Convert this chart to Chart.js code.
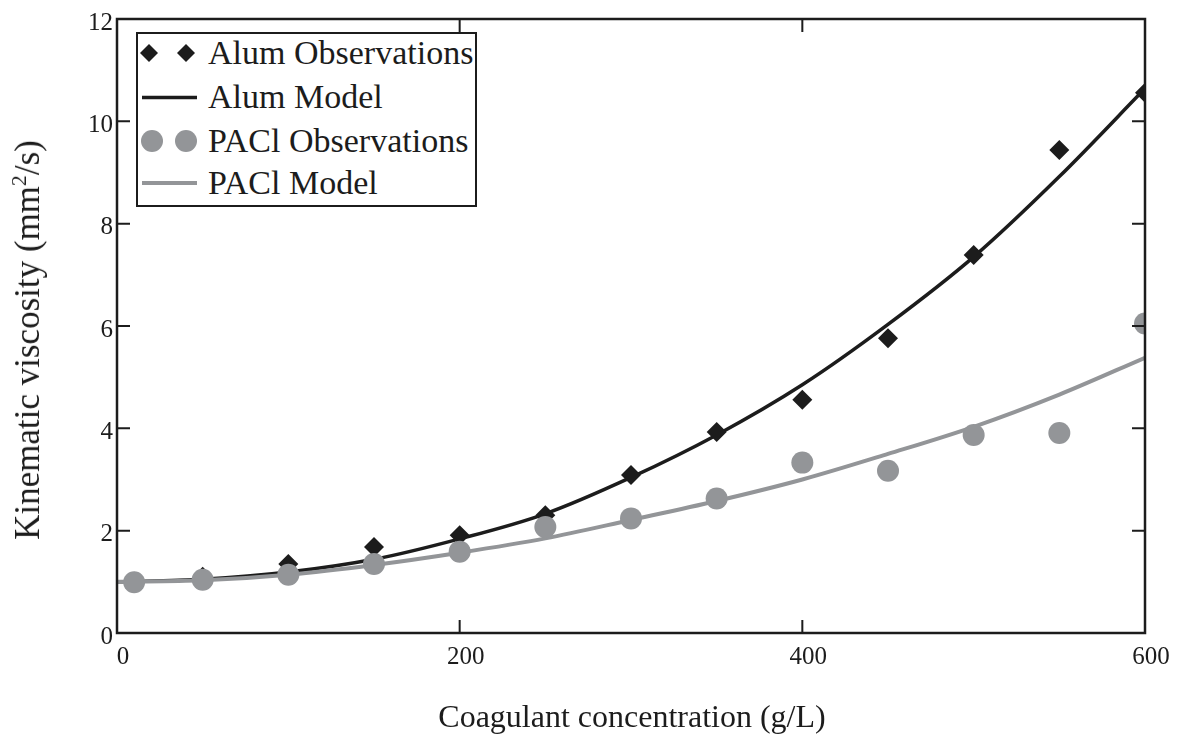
<!DOCTYPE html>
<html><head><meta charset="utf-8">
<script src="https://cdn.jsdelivr.net/npm/chart.js@4"></script>
<style>
html,body{margin:0;padding:0;background:#fff;}
#wrap{position:relative;width:1186px;height:743px;font-family:"Liberation Serif","Times New Roman",serif;color:#1c1c1c;}
canvas{position:absolute;left:0;top:0;}
#legend{position:absolute;left:136px;top:32px;width:337px;height:171px;border:2px solid #1c1c1c;background:#fff;}
#legend svg{position:absolute;left:0;top:0;}
.lt{position:absolute;left:70px;font-size:34px;line-height:40px;white-space:nowrap;}
#ytitle{position:absolute;left:28px;top:340px;transform:translate(-50%,-50%) rotate(-90deg);font-size:35px;line-height:40px;white-space:nowrap;}
#ytitle sup{font-size:0.62em;line-height:0;vertical-align:0.6em;}
#xtitle{position:absolute;left:632px;top:716px;transform:translate(-50%,-50%);font-size:32px;line-height:40px;white-space:nowrap;}
</style></head>
<body>
<div id="wrap">
<canvas id="c" width="1186" height="743"></canvas>
<div id="legend">
<svg width="70" height="171">
<polygon points="11,10 20,19 11,28 2,19" fill="#1c1c1c"/>
<polygon points="48,10 57,19 48,28 39,19" fill="#1c1c1c"/>
<line x1="4" y1="63.5" x2="59" y2="63.5" stroke="#1c1c1c" stroke-width="3.5"/>
<circle cx="14" cy="107" r="11" fill="#939598"/>
<circle cx="48" cy="107" r="11" fill="#939598"/>
<line x1="4" y1="149" x2="59" y2="149" stroke="#939598" stroke-width="4"/>
</svg>
<div class="lt" style="top:-1px">Alum Observations</div>
<div class="lt" style="top:43px">Alum Model</div>
<div class="lt" style="top:87px">PACl Observations</div>
<div class="lt" style="top:129px">PACl Model</div>
</div>
<div id="ytitle">Kinematic viscosity (mm<sup>2</sup>/s)</div>
<div id="xtitle">Coagulant concentration (g/L)</div>
</div>
<script>
// ---- data ----
const obsConc = [10, 50, 100, 150, 200, 250, 300, 350, 400, 450, 500, 550, 600];
const alumObs = [1.00, 1.10, 1.35, 1.68, 1.91, 2.30, 3.09, 3.93, 4.56, 5.76, 7.39, 9.44, 10.56];
const paclObs = [0.99, 1.04, 1.14, 1.35, 1.59, 2.07, 2.24, 2.63, 3.33, 3.17, 3.87, 3.91, 6.05];
const modelConc = [0, 50, 100, 150, 200, 250, 300, 350, 400, 450, 500, 550, 600];
const alumModel = [1.00, 1.05, 1.19, 1.44, 1.84, 2.33, 3.04, 3.87, 4.85, 6.03, 7.35, 8.92, 10.64];
const paclModel = [1.00, 1.03, 1.14, 1.33, 1.57, 1.85, 2.21, 2.58, 3.00, 3.50, 4.03, 4.66, 5.38];
const xTicks = [0, 200, 400, 600];
const yTicks = [0, 2, 4, 6, 8, 10, 12];

const BLACK = '#1c1c1c', GRAY = '#939598';
const pts = (xs, ys) => xs.map((x, i) => ({x, y: ys[i]}));

const framePlugin = {
  id: 'frame',
  afterDraw(chart) {
    const {ctx, chartArea: a, scales: {x, y}} = chart;
    ctx.save();
    ctx.strokeStyle = BLACK;
    ctx.lineWidth = 2.5;
    ctx.strokeRect(a.left, a.top, a.right - a.left, a.bottom - a.top);
    ctx.lineWidth = 2;
    const L = 13;
    ctx.beginPath();
    xTicks.forEach(v => {
      const px = x.getPixelForValue(v);
      ctx.moveTo(px, a.bottom); ctx.lineTo(px, a.bottom - L);
      ctx.moveTo(px, a.top); ctx.lineTo(px, a.top + L);
    });
    yTicks.forEach(v => {
      const py = y.getPixelForValue(v);
      ctx.moveTo(a.left, py); ctx.lineTo(a.left + L, py);
      ctx.moveTo(a.right, py); ctx.lineTo(a.right - L, py);
    });
    ctx.stroke();
    ctx.restore();
  }
};

new Chart(document.getElementById('c'), {
  type: 'scatter',
  data: {
    datasets: [
      {label: 'PACl Observations', data: pts(obsConc, paclObs), pointStyle: 'circle', pointRadius: 11,
       backgroundColor: GRAY, borderColor: GRAY, borderWidth: 0, order: 0},
      {label: 'PACl Model', data: pts(modelConc, paclModel), showLine: true, pointRadius: 0,
       borderColor: GRAY, borderWidth: 4, cubicInterpolationMode: 'monotone', order: 1},
      {label: 'Alum Observations', data: pts(obsConc, alumObs), pointStyle: 'rectRot', pointRadius: 10,
       backgroundColor: BLACK, borderColor: BLACK, borderWidth: 0, order: 2},
      {label: 'Alum Model', data: pts(modelConc, alumModel), showLine: true, pointRadius: 0,
       borderColor: BLACK, borderWidth: 3.5, cubicInterpolationMode: 'monotone', order: 3}
    ]
  },
  options: {
    responsive: false,
    animation: false,
    devicePixelRatio: 1,
    layout: {padding: {top: 12, right: 41, left: 0, bottom: 0}},
    plugins: {legend: {display: false}, tooltip: {enabled: false}},
    scales: {
      x: {
        type: 'linear', min: 0, max: 600,
        afterFit: s => { s.height = 110; },
        afterBuildTicks: s => { s.ticks = xTicks.map(v => ({value: v})); },
        grid: {display: false, drawTicks: false},
        border: {display: false},
        ticks: {padding: 9, labelOffset: 6, color: BLACK, font: {family: 'Liberation Serif', size: 25}}
      },
      y: {
        type: 'linear', min: 0, max: 12,
        afterFit: s => { s.width = 117; },
        afterBuildTicks: s => { s.ticks = yTicks.map(v => ({value: v})); },
        grid: {display: false, drawTicks: false},
        border: {display: false},
        ticks: {padding: 4, labelOffset: 4, color: BLACK, font: {family: 'Liberation Serif', size: 25}}
      }
    }
  },
  plugins: [framePlugin]
});
</script>
</body></html>
